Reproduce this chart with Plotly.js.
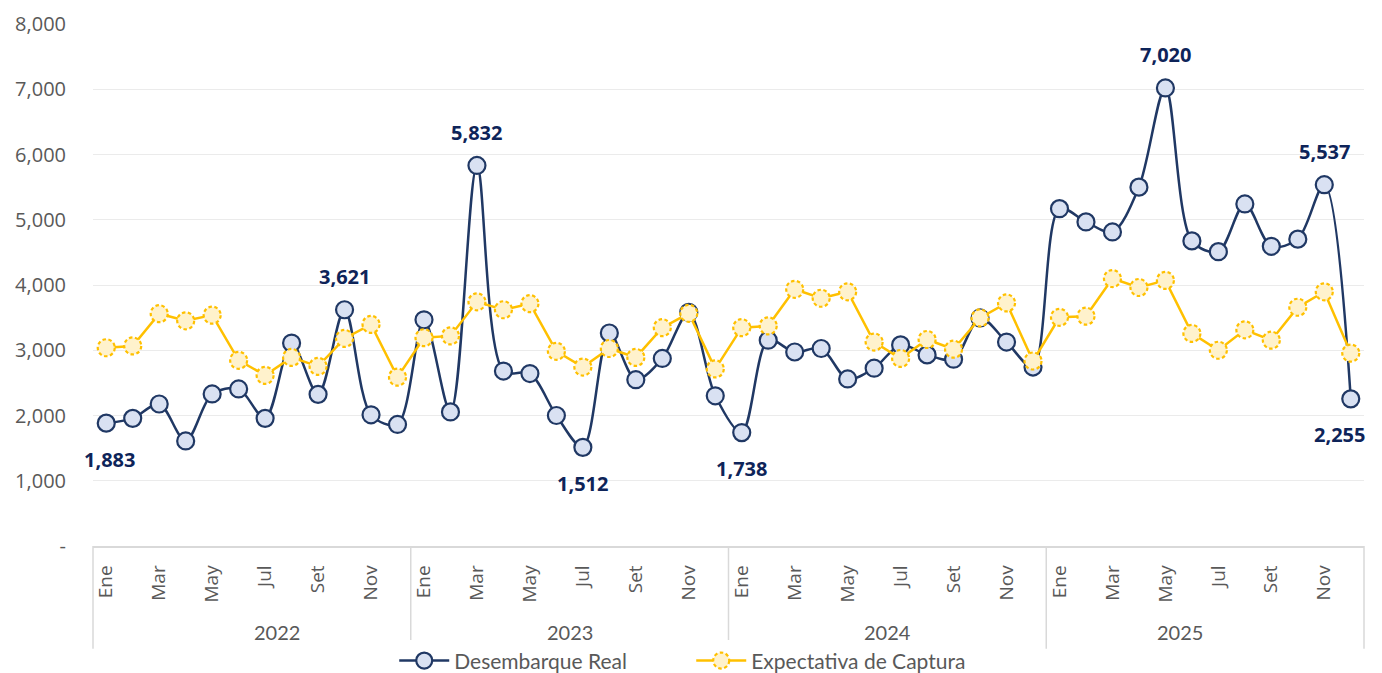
<!DOCTYPE html>
<html>
<head>
<meta charset="utf-8">
<script src="https://cdn.plot.ly/plotly-3.0.1.min.js"></script>
<style>
html,body{margin:0;padding:0;background:#fff;}
#chart{width:1382px;height:673px;}
.scatterlayer .trace:last-child path.point{stroke-dasharray:3.5 2.5;}
.legend .traces:last-child path.scatterpts{stroke-dasharray:3.5 2.5;}
</style>
</head>
<body>
<div id="chart"></div>
<script>
// ---- data ----
const years = ["2022", "2023", "2024", "2025"];
const months = ["Ene","Feb","Mar","Abr","May","Jun","Jul","Ago","Set","Oct","Nov","Dic"];
const desembarqueReal = [
  1883, 1956, 2176, 1610, 2330, 2407, 1956, 3110, 2324, 3621, 2011, 1863,
  3467, 2055, 5832, 2681, 2643, 2000, 1512, 3264, 2549, 2874, 3580, 2302,
  1738, 3154, 2973, 3027, 2560, 2725, 3082, 2929, 2863, 3495, 3126, 2742,
  5170, 4967, 4813, 5500, 7020, 4676, 4511, 5242, 4593, 4703, 5537, 2255
];
const expectativaCaptura = [
  3038, 3066, 3560, 3451, 3538, 2846, 2615, 2890, 2753, 3181, 3396, 2588,
  3192, 3220, 3742, 3621, 3714, 2984, 2742, 3027, 2890, 3346, 3566, 2714,
  3346, 3374, 3934, 3797, 3896, 3126, 2874, 3165, 3016, 3495, 3725, 2835,
  3505, 3522, 4099, 3962, 4071, 3258, 3000, 3313, 3154, 3659, 3896, 2956
];
const labeledPoints = [0, 9, 14, 18, 24, 40, 46, 47];
const yTickValues = [0, 1000, 2000, 3000, 4000, 5000, 6000, 7000, 8000];

// ---- build ----
const n = desembarqueReal.length;
const idx = desembarqueReal.map((_, i) => i);
const hoverLabels = idx.map(i => months[i % 12] + " " + years[Math.floor(i / 12)]);
const tickIdx = idx.filter(i => i % 2 === 0);
const tickText = tickIdx.map(i => months[i % 12]);
const yTickText = yTickValues.map(v => v === 0 ? "-" : v.toLocaleString("en-US"));

const navy = "#203864";
const labelNavy = "#0E2459";
const gold = "#FFC000";
const gray = "#595959";

const traces = [
  {
    x: idx, y: desembarqueReal, text: hoverLabels, name: "Desembarque Real",
    type: "scatter", mode: "lines+markers",
    line: {color: navy, width: 2.5, shape: "spline", smoothing: 0.9},
    marker: {symbol: "circle", size: 17, color: "#D9E1F2", line: {color: navy, width: 2.2}}
  },
  {
    x: idx, y: expectativaCaptura, text: hoverLabels, name: "Expectativa de Captura",
    type: "scatter", mode: "lines+markers",
    line: {color: gold, width: 2.5},
    marker: {symbol: "circle", size: 17, color: "#FFF2CC", line: {color: gold, width: 2.2}}
  }
];

const annotations = labeledPoints.map(i => {
  const v = desembarqueReal[i];
  const prev = i > 0 ? desembarqueReal[i - 1] : -Infinity;
  const next = i < n - 1 ? desembarqueReal[i + 1] : -Infinity;
  const above = v >= prev && v >= next;
  return {
    x: i, y: v, xref: "x", yref: "y", showarrow: false,
    text: v.toLocaleString("en-US"),
    yshift: above ? 33 : -36,
    xshift: i === n - 1 ? -11 : (i === 0 ? 3 : 0),
    font: {family: "Open Sans, sans-serif", size: 20, color: labelNavy, weight: "bold"}
  };
});
years.forEach((yr, k) => {
  annotations.push({
    x: (k * 12 + 6) / n, xref: "paper", y: -0.164, yref: "paper",
    yanchor: "middle", showarrow: false, text: yr,
    font: {family: "Lato, sans-serif", size: 20, color: gray}
  });
});

const shapes = [];
for (let k = 0; k <= years.length; k++) {
  shapes.push({
    type: "line", xref: "paper", yref: "paper",
    x0: k * 12 / n, x1: k * 12 / n, y0: 0, y1: -0.197,
    line: {color: "#D9D9D9", width: 1.5}
  });
}

const layout = {
  width: 1382, height: 673,
  margin: {l: 93, r: 18, t: 24, b: 127, autoexpand: false},
  paper_bgcolor: "#fff", plot_bgcolor: "#fff",
  showlegend: true,
  legend: {
    orientation: "h", x: 0.237, xanchor: "left",
    yref: "container", y: 0.018, yanchor: "middle",
    font: {family: "Lato, sans-serif", size: 21, color: gray},
    itemwidth: 50, tracegroupgap: 0,
    entrywidth: 232, entrywidthmode: "pixels"
  },
  xaxis: {
    range: [-0.5, n - 0.5], tickmode: "array", tickvals: tickIdx, ticktext: tickText,
    tickangle: -90, showgrid: false, zeroline: false,
    showline: true, linecolor: "#D9D9D9", linewidth: 1.5, ticks: "",
    ticklabelstandoff: 10,
    tickfont: {family: "Open Sans, sans-serif", size: 19, color: gray}
  },
  yaxis: {
    range: [0, 8000], tickmode: "array", tickvals: yTickValues, ticktext: yTickText,
    showgrid: true, gridcolor: "#EBEBEB", gridwidth: 1.2, zeroline: false, showline: false,
    ticks: "", ticklen: 0, ticklabelstandoff: 26,
    tickfont: {family: "Open Sans, sans-serif", size: 20, color: gray}
  },
  annotations: annotations,
  shapes: shapes
};

Plotly.newPlot("chart", traces, layout, {displayModeBar: false, responsive: false});
</script>
</body>
</html>
